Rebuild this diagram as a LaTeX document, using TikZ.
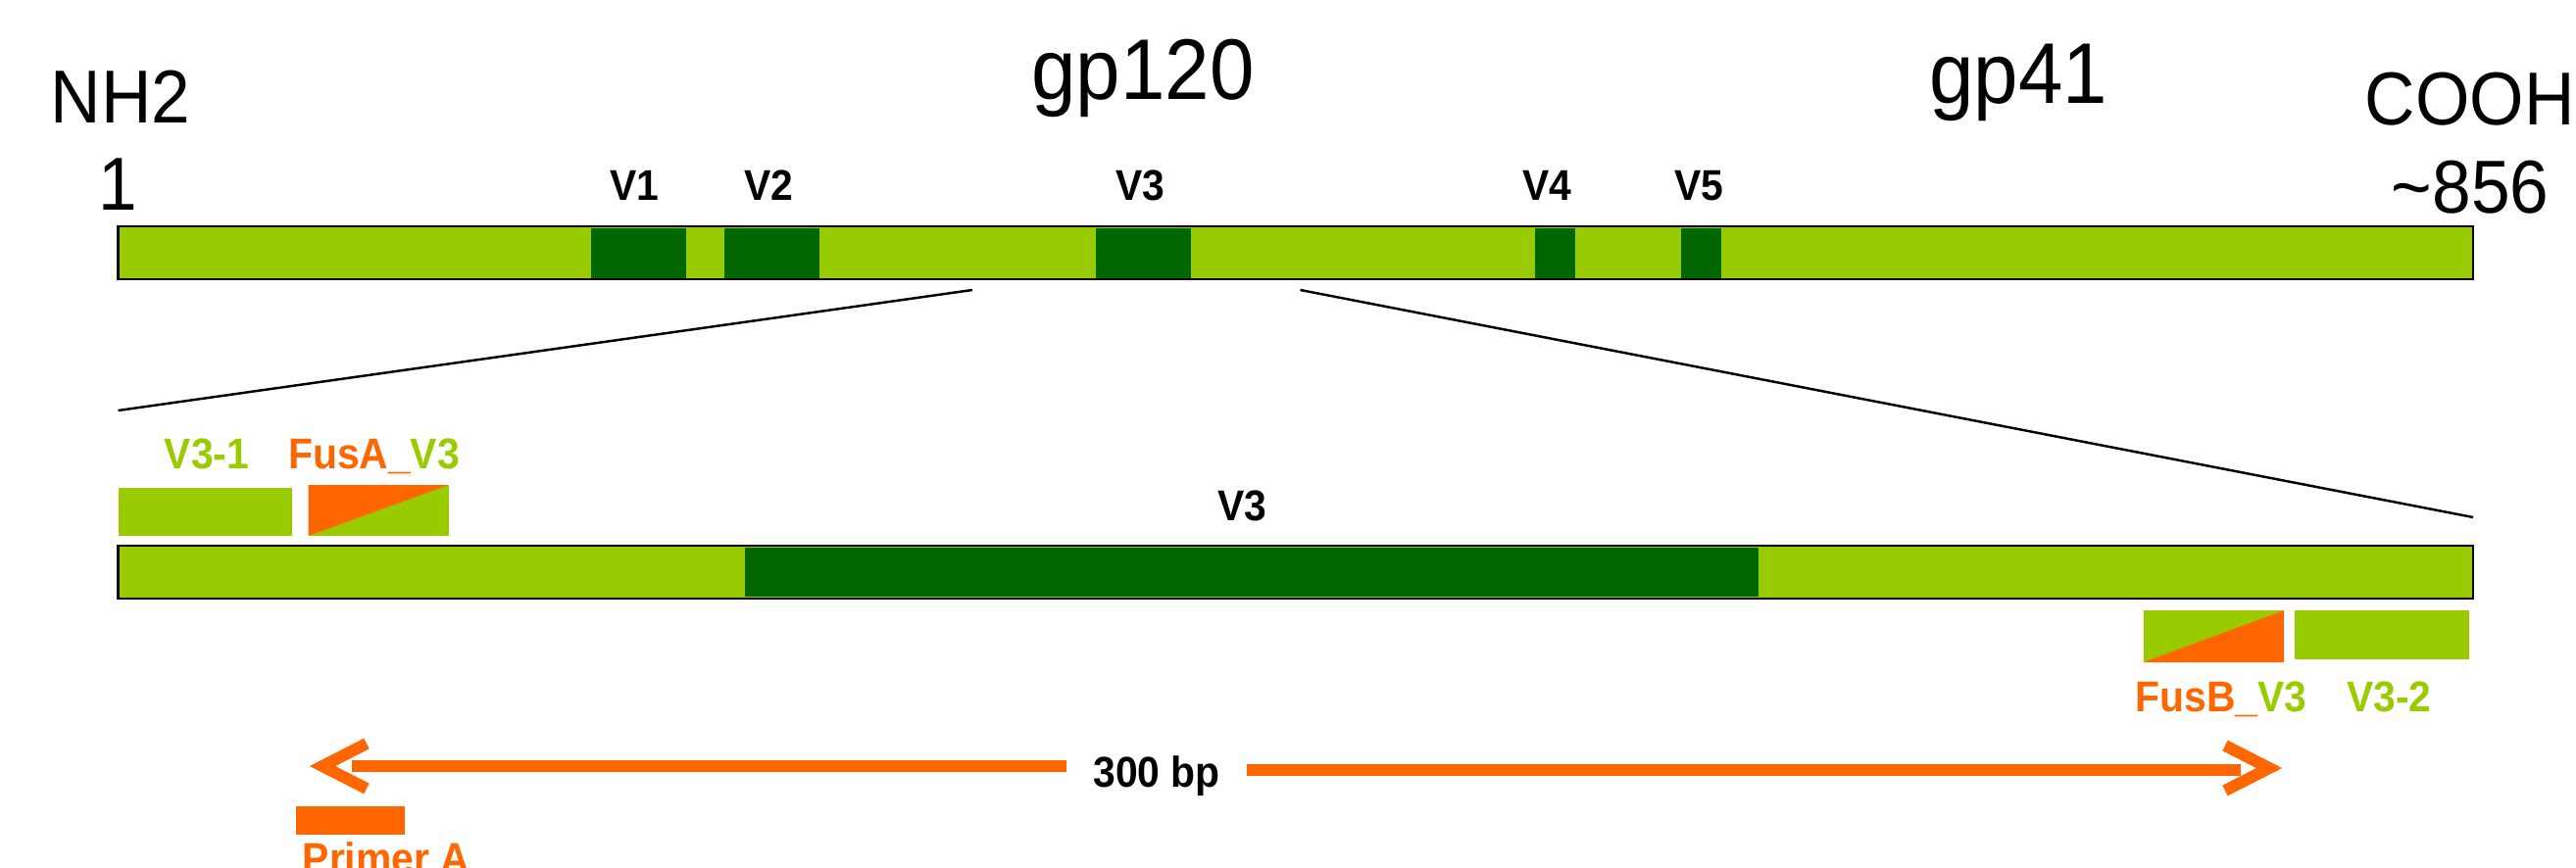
\documentclass[tikz,border=0pt]{standalone}
\usepackage{fontspec}
\setmainfont{Liberation Sans}[FakeStretch=0.93]
\usepackage{tikz}
\usetikzlibrary{positioning}
\definecolor{lgreen}{HTML}{99CC00}
\definecolor{dgreen}{HTML}{006600}
\definecolor{orng}{HTML}{FF6600}
\tikzset{endtxt/.style={inner sep=0pt,anchor=base,font=\fontsize{21.8}{22}\selectfont},
	 protxt/.style={inner sep=0pt,anchor=base,font=\fontsize{25}{26}\selectfont},
	 reg/.style={inner sep=0pt,anchor=base,font=\bfseries\fontsize{12.5}{13}\selectfont},
	 frame/.style={draw,line width=0.7pt},
	 zoomline/.style={line width=0.7pt},
	 shaft/.style={draw=orng,line width=3.4pt,line join=miter},
	 }

\begin{document}
\begin{tikzpicture}[x=0.1mm,y=-0.1mm] % env gp160 with V3 fragment
	\useasboundingbox (0,0) rectangle (2628,886);
	% whole protein
	\fill[lgreen] (120.5,231) rectangle (2523,285);
	\foreach \a/\b in {603/700,739/836,1118/1215,1566/1607,1715/1756}
		\fill[dgreen] (\a,233) rectangle (\b,286);
	\draw[frame] (120.5,231) rectangle (2523,285);
	\node[endtxt] (nh) at (123,126) {NH2};
	\node[endtxt] (first) at (120,215) {1};
	\node[protxt] (gpa) at (1166,102) {gp120};
	\node[protxt] (gpb) at (2059,106) {gp41};
	\node[endtxt,anchor=base west] (cooh) at (2412,128) {COOH};
	\node[endtxt] (last) at (2520,218) {\textasciitilde856};
	\foreach \x/\n in {647/1,784/2,1163/3,1578/4,1733/5}
		\node[reg] (v\n) at (\x,205) {V\n};
	% zoom on V3
	\coordinate (za) at (992,296);
	\coordinate (zb) at (1326.5,296);
	\coordinate (zc) at (120.5,419);
	\coordinate (zd) at (2523,528);
	\draw[zoomline] (za) -- (zc);
	\draw[zoomline] (zb) -- (zd);
	% V3 fragment
	\fill[lgreen] (120.5,557) rectangle (2523,611);
	\fill[dgreen] (760,559) rectangle (1794,609);
	\draw[frame] (120.5,557) rectangle (2523,611);
	\node[reg] (v3m) at (1267,531) {V3};
	% primers
	\fill[lgreen] (120.5,498) rectangle (297.7,547);
	\fill[lgreen] (314.6,495) rectangle (457.7,547);
	\fill[orng] (314.6,547) -- (314.6,495) -- (457.7,495) -- cycle;
	\fill[lgreen] (2186.5,623) rectangle (2330,676);
	\fill[orng] (2186.5,676) -- (2330,623) -- (2330,676) -- cycle;
	\fill[lgreen] (2341,623) rectangle (2519,673);
	\fill[orng] (301.6,823) rectangle (412.5,852);
	\node[reg,text=lgreen] (va) at (211,478) {V3-1};
	\node[reg] (fa) at (381.5,478) {\textcolor{orng}{FusA\_}\textcolor{lgreen}{V3}};
	\node[reg] (fb) at (2266,726) {\textcolor{orng}{FusB\_}\textcolor{lgreen}{V3}};
	\node[reg,text=lgreen] (vb) at (2437.5,726) {V3-2};
	\node[reg,text=orng] (pa) at (394,891) {Primer A};
	% 300 bp
	\node[reg,inner xsep=7.6pt] (bp) at (1180,803) {300 bp};
	\coordinate (ltip) at (329,782);
	\coordinate (rtip) at (2315,784);
	\coordinate (ls) at (359,782);
	\coordinate (rs) at (2286,786);
	\draw[shaft] (ls) -- (ls -| bp.west);
	\draw[shaft] (rs -| bp.east) -- (rs);
	\draw[shaft] ([shift={(45,-23)}]ltip) -- (ltip) -- ([shift={(45,23)}]ltip);
	\draw[shaft] ([shift={(-45,-23)}]rtip) -- (rtip) -- ([shift={(-45,23)}]rtip);
\end{tikzpicture}
\end{document}
